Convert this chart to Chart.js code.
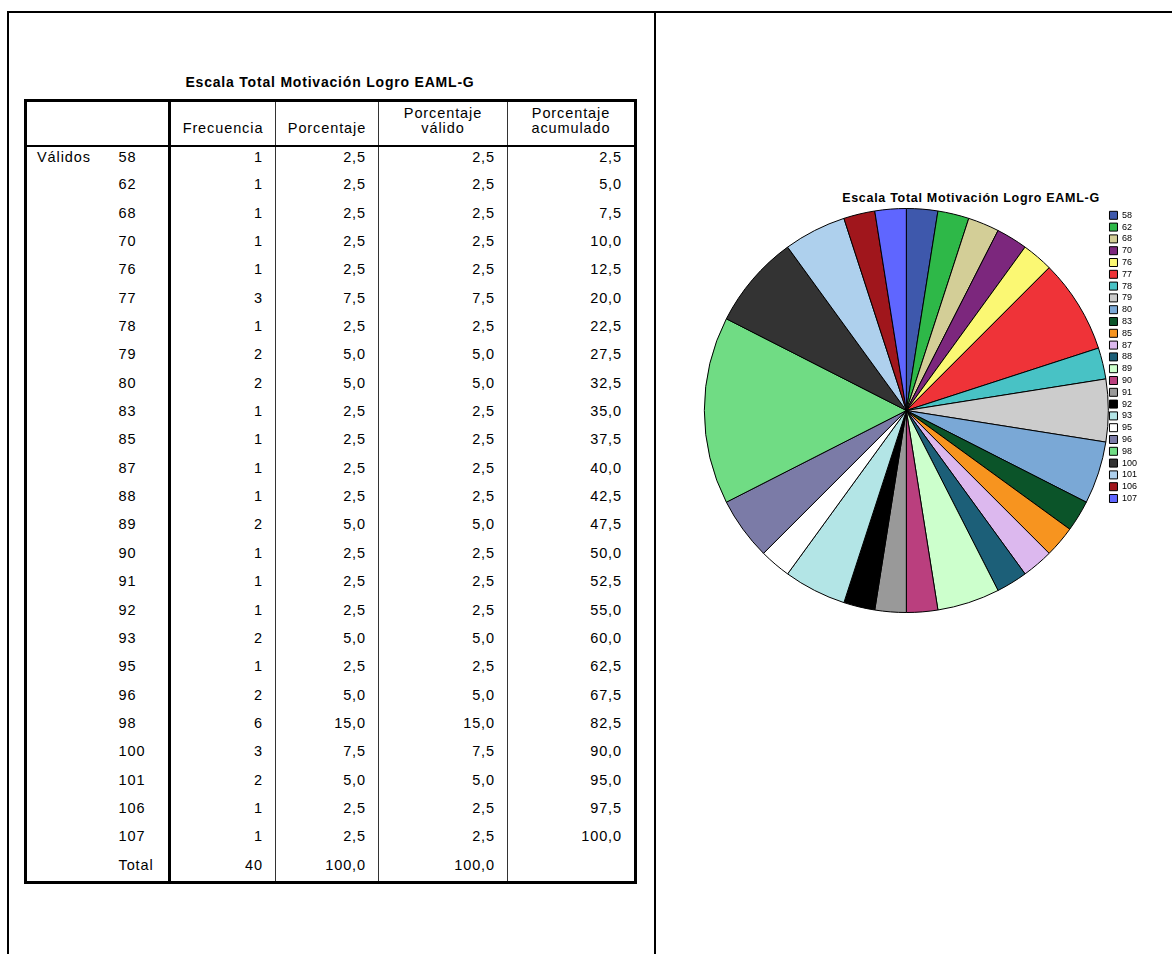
<!DOCTYPE html>
<html lang="es">
<head>
<meta charset="utf-8">
<title>Escala Total Motivación Logro EAML-G</title>
<script src="https://cdn.jsdelivr.net/npm/chart.js@4.4.1/dist/chart.umd.min.js"></script>
<style>
  html, body { margin:0; padding:0; background:#fff; }
  body { width:1172px; height:954px; position:relative; overflow:hidden;
         font-family:"Liberation Sans", Arial, sans-serif; color:#000; }
  .frame { position:absolute; left:7px; top:11px; right:-4px; bottom:-10px;
           border-top:2px solid #000; border-left:2px solid #000; }
  .mid   { position:absolute; left:654px; top:11px; width:2px; height:960px; background:#000; }

  #tblTitle { position:absolute; left:130px; top:73px; width:400px; text-align:center;
              font-weight:bold; font-size:14px; letter-spacing:0.8px; line-height:18px; }
  #freq { position:absolute; left:24px; top:99px; border-collapse:collapse; table-layout:fixed;
          border:3px solid #000; font-size:14.5px; letter-spacing:0.9px; }
  #freq th { height:34px; vertical-align:bottom; font-weight:normal; line-height:15px;
             padding:0 0 9px; text-align:center; border-bottom:2px solid #000;
             border-left:1px solid #333; }
  #freq tbody tr { height:28.35px; }
  #freq td { vertical-align:top; padding:3px 12px 0 0; line-height:14px; text-align:right;
             border-left:1px solid #333; white-space:nowrap; }
  #freq td.l1 { text-align:left; padding-left:10px; border-left:none; }
  #freq td.l2 { text-align:left; padding-left:12px; border-left:none; }
  #freq .sep  { border-right:3px solid #000 !important; }

  #pieTitle { position:absolute; left:771px; top:190px; width:400px; text-align:center;
              font-weight:bold; font-size:12.5px; letter-spacing:0.7px; line-height:16px; }
  #pieBox { position:absolute; left:690px; top:204px; width:482px; height:409px; }
</style>
</head>
<body>
<div class="frame"></div>
<div class="mid"></div>

<div id="tblTitle">Escala Total Motivación Logro EAML-G</div>
<table id="freq">
  <colgroup>
    <col style="width:81px"><col style="width:63px"><col style="width:106px">
    <col style="width:103px"><col style="width:129px"><col style="width:128px">
  </colgroup>
  <thead>
    <tr>
      <th colspan="2" class="sep" style="border-left:none"></th>
      <th>Frecuencia</th><th>Porcentaje</th><th>Porcentaje<br>válido</th><th>Porcentaje<br>acumulado</th>
    </tr>
  </thead>
  <tbody id="tb"></tbody>
</table>

<div id="pieTitle">Escala Total Motivación Logro EAML-G</div>
<div id="pieBox"><canvas id="pie" width="482" height="409"></canvas></div>

<script>
'use strict';

const SCORES     = ['58','62','68','70','76','77','78','79','80','83','85','87','88',
                    '89','90','91','92','93','95','96','98','100','101','106','107'];
const FREQ       = [1,1,1,1,1,3,1,2,2,1,1,1,1,2,1,1,1,2,1,2,6,3,2,1,1];
const PCT        = [2.5,2.5,2.5,2.5,2.5,7.5,2.5,5.0,5.0,2.5,2.5,2.5,2.5,5.0,2.5,2.5,2.5,5.0,2.5,5.0,15.0,7.5,5.0,2.5,2.5];
const PCT_VALID  = [2.5,2.5,2.5,2.5,2.5,7.5,2.5,5.0,5.0,2.5,2.5,2.5,2.5,5.0,2.5,2.5,2.5,5.0,2.5,5.0,15.0,7.5,5.0,2.5,2.5];
const PCT_CUM    = [2.5,5.0,7.5,10.0,12.5,20.0,22.5,27.5,32.5,35.0,37.5,40.0,42.5,47.5,50.0,
                    52.5,55.0,60.0,62.5,67.5,82.5,90.0,95.0,97.5,100.0];
const TOTAL_N    = 40;
const TOTAL_PCT  = 100.0;
const GROUP      = 'Válidos';

/* SPSS default category palette */
const COLORS = ['#3e58ac','#2eb848','#d3ce97','#7c277d','#fbf873','#ef3338','#48c2c5','#cccccc',
                '#7aa8d6','#0b5429','#f7941f','#dcb8ee','#1c5f78','#ccffcc','#ba3f7e','#999999',
                '#000000','#b3e5e6','#ffffff','#7b7ba7','#70dc84','#333333','#aed0ed','#a0161c','#5f66ff'];

/* ---- helpers ------------------------------------------------------------- */
const $ = (id) => document.getElementById(id);
const dec = (x) => Number(x).toFixed(1).replace('.', ',');   // 2.5 -> "2,5"

/* ---- frequency table ----------------------------------------------------- */
function buildTable(){
  let html = '';
  SCORES.forEach((s, i) => {
    html += '<tr><td class="l1">' + (i === 0 ? GROUP : '') + '</td>'
          + '<td class="l2 sep">' + s + '</td>'
          + '<td>' + FREQ[i] + '</td><td>' + dec(PCT[i]) + '</td>'
          + '<td>' + dec(PCT_VALID[i]) + '</td><td>' + dec(PCT_CUM[i]) + '</td></tr>';
  });
  html += '<tr><td class="l1"></td><td class="l2 sep">Total</td>'
        + '<td>' + TOTAL_N + '</td><td>' + dec(TOTAL_PCT) + '</td>'
        + '<td>' + dec(TOTAL_PCT) + '</td><td></td></tr>';
  $('tb').innerHTML = html;
}

/* ---- pie ----------------------------------------------------------------- */
function buildPie(){
  return new Chart($('pie'), {
    type: 'pie',
    data: {
      labels: SCORES,
      datasets: [{ data: FREQ, backgroundColor: COLORS, borderColor: '#000',
                   borderWidth: 1, clip: false }]
    },
    options: {
      responsive: false, animation: false, devicePixelRatio: 1,
      radius: 202,
      layout: { padding: { left: 16, right: 25, top: 4, bottom: 0 } },
      plugins: {
        title: { display: false },
        tooltip: { enabled: false },
        legend: {
          position: 'right', align: 'start',
          labels: {
            boxWidth: 8, boxHeight: 8, padding: 2.8, color: '#000',
            font: { family: '"Liberation Sans", Arial, sans-serif', size: 9 }
          }
        }
      }
    }
  });
}

window.addEventListener('DOMContentLoaded', () => {
  buildTable();
  buildPie();
});
</script>
</body>
</html>
